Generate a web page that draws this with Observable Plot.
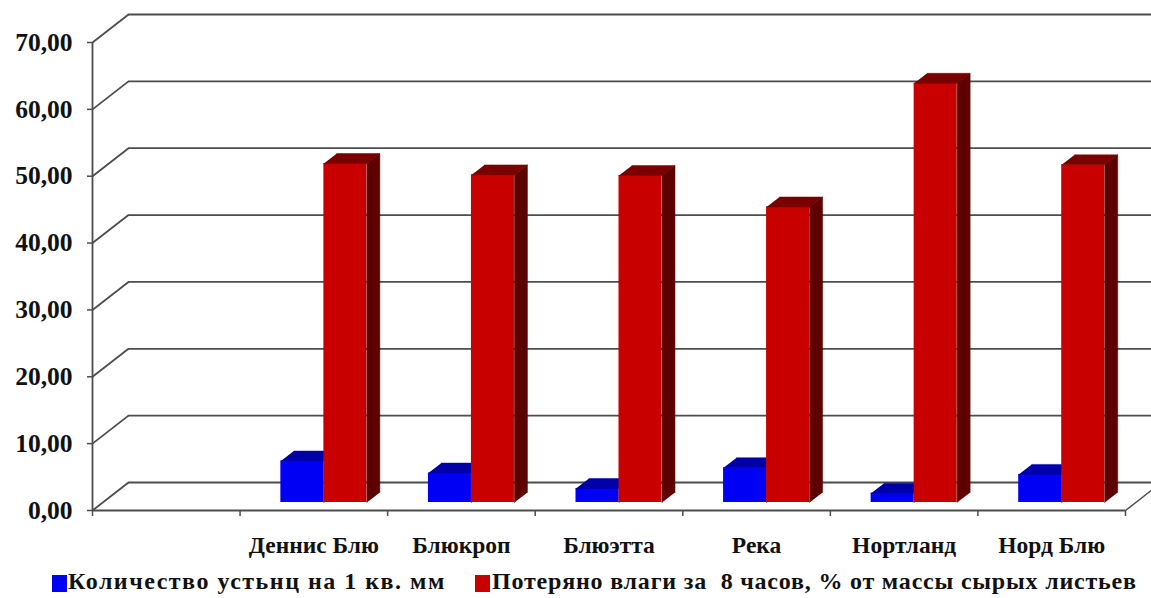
<!DOCTYPE html>
<html>
<head>
<meta charset="utf-8">
<script src="https://cdn.jsdelivr.net/npm/d3@7"></script>
<script src="https://cdn.jsdelivr.net/npm/@observablehq/plot@0.6"></script>
<style>
  html, body { margin: 0; padding: 0; background: #fff; overflow: hidden; width: 1151px; height: 598px; }
  #chart { width: 1151px; }
  #legend { position: relative; height: 33px; font-family: "Liberation Serif", "Times New Roman", serif;
            font-weight: bold; font-size: 24px; white-space: pre; color: #111; }
  #legend .item { position: absolute; top: 2px; line-height: 28px; }
  #legend .sw { position: absolute; top: 10px; width: 15px; height: 17px; }
</style>
</head>
<body>
<div id="chart"></div>
<div id="legend"></div>
<script>
// Cultivars (the first slot of the category axis is left empty)
const categories = ["", "Деннис Блю", "Блюкроп", "Блюэтта", "Река", "Нортланд", "Норд Блю"];
// Stomata per 1 sq. mm
const stomata = [null, 6.2, 4.4, 2.1, 5.2, 1.4, 4.2];
// Moisture lost in 8 hours, % of fresh leaf mass
const moistureLoss = [null, 50.7, 49.0, 48.9, 44.2, 62.7, 50.5];
const yTicks = [0, 10, 20, 30, 40, 50, 60, 70];
const seriesNames = ["Количество устьнц на 1 кв. мм", "Потеряно влаги за  8 часов, % от массы сырых листьев"];
const seriesFront = ["#0000f5", "#c80000"];
const seriesTop = ["#0000a8", "#7a0000"];
const seriesSide = ["#00007a", "#5e0000"];

// Frame and pseudo-3D geometry (pixels)
const W = 1151, H = 565;
const mL = 92, mR = 26, mT = 42, mB = 55;
const nSlots = categories.length;               // 7 slots on the x axis
const pxX = (W - mL - mR) / nSlots;
const pxY = (H - mT - mB) / 70;
const wall = {dx: 36, dy: -28};                 // back wall offset
const plane = {dx: 10, dy: -8};                 // bars' front plane offset
const depthX = 13 / pxX, depthY = 10 / pxY;     // bar depth in data units
const bw = 43 / pxX;                            // bar width in data units

const series = [stomata, moistureLoss];
const bars = [];
series.forEach((vals, s) => {
  vals.forEach((v, i) => {
    if (v == null) return;
    const x1 = s === 0 ? i + 0.5 - bw : i + 0.5;
    bars.push({s, i, v, x1, x2: x1 + bw, id: `${s}-${i}`});
  });
});
const topFaces = bars.flatMap(b => [
  {id: b.id, s: b.s, x: b.x1, y: b.v},
  {id: b.id, s: b.s, x: b.x2, y: b.v},
  {id: b.id, s: b.s, x: b.x2 + depthX, y: b.v + depthY},
  {id: b.id, s: b.s, x: b.x1 + depthX, y: b.v + depthY}
]);
const sideFaces = bars.flatMap(b => [
  {id: b.id, s: b.s, x: b.x2, y: 0},
  {id: b.id, s: b.s, x: b.x2, y: b.v},
  {id: b.id, s: b.s, x: b.x2 + depthX, y: b.v + depthY},
  {id: b.id, s: b.s, x: b.x2 + depthX, y: depthY}
]);

const gridColor = "#4d4d4d";
const font = {fontFamily: "'Liberation Serif', 'Times New Roman', serif", fontWeight: "bold"};

function barMarks(s) {
  const b = bars.filter(d => d.s === s);
  return [
    Plot.rect(b, {x1: "x1", x2: "x2", y1: 0, y2: "v", fill: seriesFront[s], dx: plane.dx, dy: plane.dy}),
    Plot.line(topFaces.filter(d => d.s === s), {x: "x", y: "y", z: "id", fill: seriesTop[s], stroke: seriesTop[s], strokeWidth: 0.5, dx: plane.dx, dy: plane.dy}),
    Plot.line(sideFaces.filter(d => d.s === s), {x: "x", y: "y", z: "id", fill: seriesSide[s], stroke: seriesSide[s], strokeWidth: 0.5, dx: plane.dx, dy: plane.dy})
  ];
}

const chart = Plot.plot({
  width: W, height: H,
  marginLeft: mL, marginRight: mR, marginTop: mT, marginBottom: mB,
  style: {fontFamily: font.fontFamily, color: "#111", background: "#fff"},
  x: {domain: [0, nSlots], axis: null},
  y: {domain: [0, 70], axis: null},
  marks: [
    // back wall gridlines
    Plot.ruleY(yTicks, {stroke: gridColor, strokeWidth: 1.8, dx: wall.dx, dy: wall.dy}),
    // side wall diagonals joining the front axis to the back wall
    Plot.link(yTicks, {x1: 0, y1: d => d, x2: wall.dx / pxX, y2: d => d - wall.dy / pxY, stroke: gridColor, strokeWidth: 1.8}),
    // floor: right edge and front edge
    Plot.link([0], {x1: nSlots, y1: 0, x2: nSlots + wall.dx / pxX, y2: -wall.dy / pxY, stroke: gridColor, strokeWidth: 1.5}),
    Plot.ruleY([0], {stroke: gridColor, strokeWidth: 1.8}),
    // front vertical axis line
    Plot.ruleX([0], {y1: 0, y2: 70, stroke: gridColor, strokeWidth: 1.8}),
    // category boundary ticks
    Plot.axisX({ticks: d3.range(nSlots + 1), tickFormat: () => "", tickSize: 6, stroke: gridColor, strokeWidth: 1.5}),
    Plot.axisY({ticks: yTicks, tickSize: 5, tickPadding: 15, stroke: gridColor, strokeWidth: 1.5,
      tickFormat: d => d.toFixed(2).replace(".", ","), fontSize: 25.5, fill: "#111", ...font}),
    // bars
    ...barMarks(0),
    ...barMarks(1),
    // category labels
    Plot.text(categories, {x: (d, i) => i + 0.5, y: 0, dy: 35, text: d => d, fontSize: 23.5, fill: "#111", ...font})
  ]
});
document.getElementById("chart").append(chart);

// Legend below the chart
const legend = document.getElementById("legend");
const legendX = [[52, 68], [475, 492]];
const legendSpacing = ["1.5px", "0.8px"];
seriesNames.forEach((name, s) => {
  const sw = document.createElement("div");
  sw.className = "sw";
  sw.style.left = legendX[s][0] + "px";
  sw.style.background = seriesFront[s];
  const t = document.createElement("div");
  t.className = "item";
  t.style.left = legendX[s][1] + "px";
  t.style.letterSpacing = legendSpacing[s];
  t.textContent = name;
  legend.append(sw, t);
});
</script>
</body>
</html>
